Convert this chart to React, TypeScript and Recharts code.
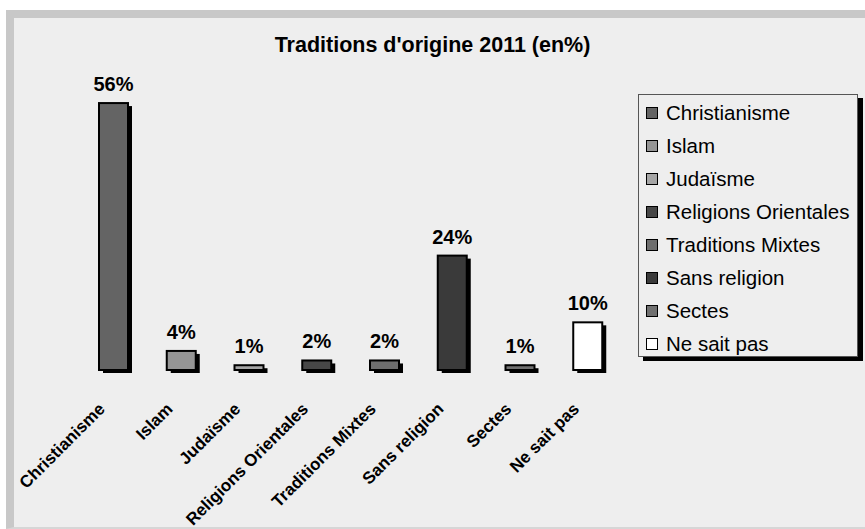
import React from 'react';
import { BarChart, Bar, XAxis, YAxis, Cell, LabelList } from 'recharts';

const categories = [
  'Christianisme', 'Islam', 'Judaïsme', 'Religions Orientales',
  'Traditions Mixtes', 'Sans religion', 'Sectes', 'Ne sait pas',
];
const values = [56, 4, 1, 2, 2, 24, 1, 10];
const colors = ['#646464', '#959595', '#a6a6a6', '#474747', '#6e6e6e', '#3a3a3a', '#707070', '#ffffff'];

const data = categories.map((name, i) => ({ name, value: values[i], color: colors[i] }));

const FONT = '"Liberation Sans", Arial, sans-serif';

const ShadowBar = (props: any) => {
  const { x, y, width, height, fill } = props;
  return (
    <g>
      <rect x={x + 4} y={y + 3} width={width} height={height} fill="#000" />
      <rect x={x} y={y} width={width} height={height} fill={fill} stroke="#000" strokeWidth={2} />
    </g>
  );
};

const Tick = (props: any) => {
  const { x, y, payload } = props;
  const tx = x - 8;
  const ty = y + 40;
  return (
    <text x={tx} y={ty} transform={`rotate(-45 ${tx} ${ty})`} textAnchor="end"
      fontFamily={FONT} fontWeight="bold" fontSize={17} fill="#000">
      {payload.value}
    </text>
  );
};

const ValueLabel = (props: any) => {
  const { x, y, width, value } = props;
  return (
    <text x={x + width / 2} y={y - 12} textAnchor="middle" fontFamily={FONT}
      fontWeight="bold" fontSize={20} fill="#000">
      {value}%
    </text>
  );
};

const LegendBox = () => (
  <div style={{
    position: 'absolute', left: 638, top: 94,
    width: 220, height: 263, background: '#eeeeee', border: '1px solid #555',
    boxShadow: '5px 4px 0 #000', boxSizing: 'border-box', paddingTop: 2,
  }}>
    {categories.map((c, i) => (
      <div key={c} style={{ display: 'flex', alignItems: 'center', height: 32.9, paddingLeft: 7 }}>
        <span style={{
          display: 'inline-block', width: 10, height: 10, background: colors[i],
          border: '1.5px solid #000', marginRight: 8,
        }} />
        <span style={{ fontFamily: FONT, fontSize: 20.5, color: '#000', whiteSpace: 'nowrap' }}>{c}</span>
      </div>
    ))}
  </div>
);

export default function App() {
  return (
    <div style={{ position: 'fixed', left: 0, top: 0, width: 865, height: 529, background: '#fff', overflow: 'hidden' }}>
      <div style={{
        position: 'absolute', left: 6, top: 10, width: 859, height: 519, boxSizing: 'border-box',
        background: '#eeeeee', borderLeft: '8px solid #c8c8c8', borderTop: '8px solid #c8c8c8',
        borderBottom: '2px solid #d6d6d6',
      }} />
      <div style={{
        position: 'absolute', left: 0, width: 865, top: 33, textAlign: 'center',
        fontFamily: FONT, fontWeight: 'bold', fontSize: 21.5, color: '#000',
      }}>
        Traditions d'origine 2011 (en%)
      </div>
      <div style={{ position: 'absolute', left: 0, top: 0 }}>
        <BarChart width={865} height={529} data={data}
          margin={{ top: 84, right: 243, bottom: 9, left: 80 }}>
          <XAxis dataKey="name" axisLine={false} tickLine={false} tickSize={0} tickMargin={0}
            height={150} interval={0} tick={<Tick />} />
          <YAxis hide domain={[0, 60]} />
          <Bar dataKey="value" barSize={29} shape={<ShadowBar />} isAnimationActive={false}>
            {data.map((d) => <Cell key={d.name} fill={d.color} />)}
            <LabelList dataKey="value" content={<ValueLabel />} />
          </Bar>
        </BarChart>
      </div>
      <LegendBox />
    </div>
  );
}
